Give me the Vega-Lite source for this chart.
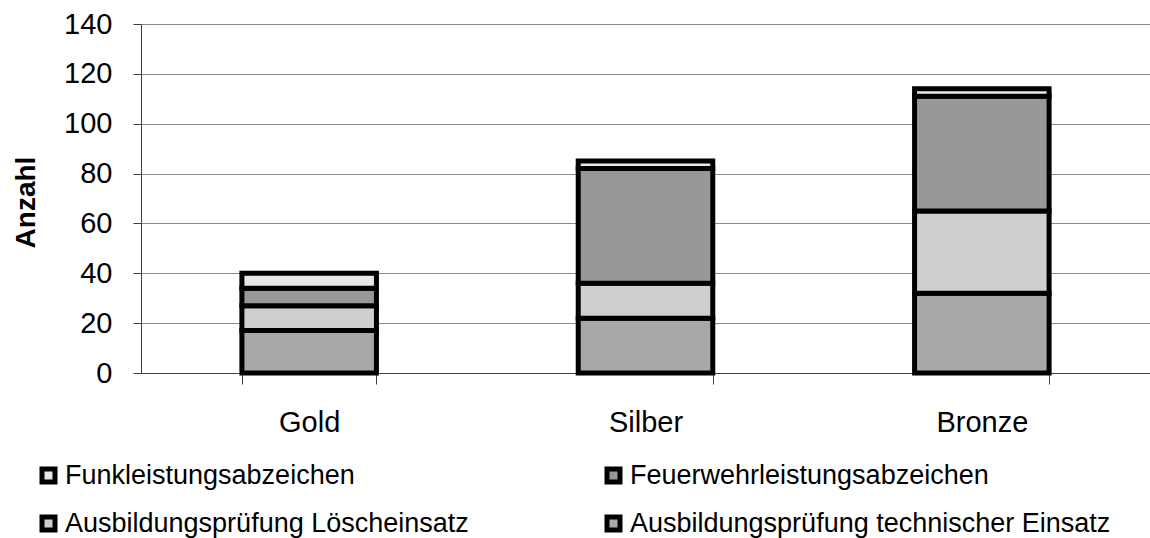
{
  "$schema": "https://vega.github.io/schema/vega-lite/v6.json",
  "width": 1009,
  "height": 349,
  "autosize": {"type": "none"},
  "padding": {"left": 141, "top": 24, "right": 0, "bottom": 165},
  "config": {"view": {"stroke": null}, "font": "Liberation Sans"},
  "data": {
    "values": [
      {"Stufe": "Gold", "Art": "Ausbildungsprüfung technischer Einsatz", "Reihe": 1, "Anzahl": 17},
      {"Stufe": "Gold", "Art": "Ausbildungsprüfung Löscheinsatz", "Reihe": 2, "Anzahl": 10},
      {"Stufe": "Gold", "Art": "Feuerwehrleistungsabzeichen", "Reihe": 3, "Anzahl": 7},
      {"Stufe": "Gold", "Art": "Funkleistungsabzeichen", "Reihe": 4, "Anzahl": 6},
      {"Stufe": "Silber", "Art": "Ausbildungsprüfung technischer Einsatz", "Reihe": 1, "Anzahl": 22},
      {"Stufe": "Silber", "Art": "Ausbildungsprüfung Löscheinsatz", "Reihe": 2, "Anzahl": 14},
      {"Stufe": "Silber", "Art": "Feuerwehrleistungsabzeichen", "Reihe": 3, "Anzahl": 46},
      {"Stufe": "Silber", "Art": "Funkleistungsabzeichen", "Reihe": 4, "Anzahl": 3},
      {"Stufe": "Bronze", "Art": "Ausbildungsprüfung technischer Einsatz", "Reihe": 1, "Anzahl": 32},
      {"Stufe": "Bronze", "Art": "Ausbildungsprüfung Löscheinsatz", "Reihe": 2, "Anzahl": 33},
      {"Stufe": "Bronze", "Art": "Feuerwehrleistungsabzeichen", "Reihe": 3, "Anzahl": 46},
      {"Stufe": "Bronze", "Art": "Funkleistungsabzeichen", "Reihe": 4, "Anzahl": 3}
    ]
  },
  "mark": {"type": "bar", "stroke": "black", "strokeWidth": 5},
  "encoding": {
    "x": {
      "field": "Stufe",
      "type": "nominal",
      "sort": ["Gold", "Silber", "Bronze"],
      "scale": {"paddingInner": 0.6, "paddingOuter": 0.3},
      "axis": {
        "title": null,
        "labelAngle": 0,
        "labelFontSize": 29,
        "labelColor": "black",
        "labelPadding": 24,
        "tickBand": "extent",
        "tickSize": 11,
        "tickColor": "#404040",
        "domainColor": "#404040",
        "grid": false
      }
    },
    "y": {
      "field": "Anzahl",
      "type": "quantitative",
      "stack": "zero",
      "scale": {"domain": [0, 140]},
      "axis": {
        "values": [0, 20, 40, 60, 80, 100, 120, 140],
        "title": "Anzahl",
        "titleFontSize": 28,
        "titleFontWeight": "bold",
        "titleColor": "black",
        "titleAngle": -90,
        "titleAlign": "center",
        "titleBaseline": "alphabetic",
        "titleX": -107,
        "titleY": 178,
        "labelFontSize": 29,
        "labelColor": "black",
        "labelPadding": 21,
        "tickSize": 8,
        "tickColor": "#404040",
        "domainColor": "#404040",
        "gridColor": "#8a8a8a",
        "gridWidth": 1.2
      }
    },
    "color": {
      "field": "Art",
      "type": "nominal",
      "scale": {
        "domain": ["Funkleistungsabzeichen", "Feuerwehrleistungsabzeichen", "Ausbildungsprüfung Löscheinsatz", "Ausbildungsprüfung technischer Einsatz"],
        "range": ["#e8e8e8", "#989898", "#cfcfcf", "#a8a8a8"]
      },
      "legend": {
        "title": null,
        "orient": "none",
        "legendX": -106,
        "legendY": 438,
        "direction": "horizontal",
        "columns": 2,
        "columnPadding": 128,
        "rowPadding": 15,
        "symbolType": "square",
        "symbolSize": 169,
        "symbolStrokeColor": "black",
        "symbolStrokeWidth": 5,
        "symbolOpacity": 1,
        "labelFontSize": 27,
        "labelColor": "black",
        "labelOffset": 3,
        "labelLimit": 0
      }
    },
    "order": {"field": "Reihe", "type": "quantitative"}
  }
}
